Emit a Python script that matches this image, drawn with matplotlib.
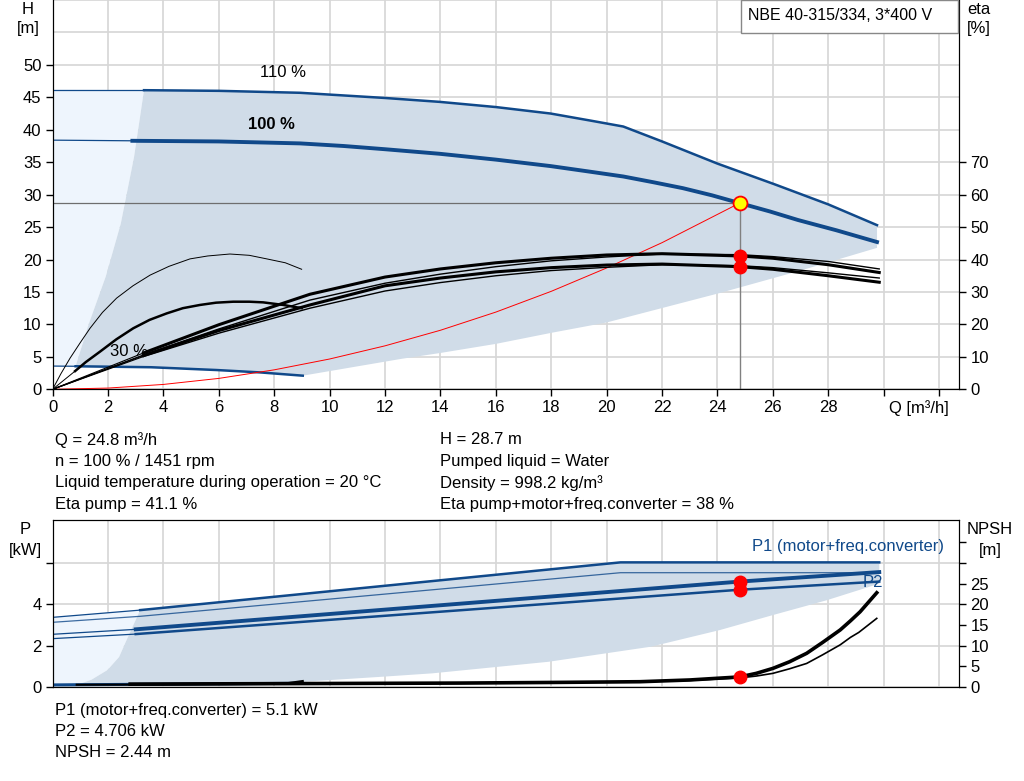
import matplotlib
matplotlib.use("Agg")
import matplotlib.pyplot as plt
from matplotlib.patches import Rectangle
import numpy as np

plt.rcParams['font.family'] = ['Liberation Sans', 'DejaVu Sans']
plt.rcParams['font.size'] = 12

BLUE = '#10498a'
SHADE = '#d0dce8'
LIGHT = '#eef5fd'
GRID = '#d6d6d6'

# ---- head curves H(Q) ----
q110_thin = [0, 3.3]
h110_thin = [46.2, 46.2]
q110 = [3.3, 6, 8.93, 12, 13.97, 16, 17.98, 19.5, 20.6, 22, 23.99, 26.06, 28.0, 29.76]
h110 = [46.1, 46.0, 45.7, 44.9, 44.3, 43.5, 42.5, 41.35, 40.5, 38.2, 34.8, 31.6, 28.5, 25.3]

q100_thin = [0, 2.88]
h100_thin = [38.4, 38.3]
q100 = [2.88, 6, 8.93, 10.5, 12, 13.97, 16, 17.98, 19.3, 20.6, 21.7, 22.75, 23.8, 24.8,
        25.9, 26.9, 28.3, 29.76]
h100 = [38.3, 38.2, 37.9, 37.5, 37.0, 36.3, 35.4, 34.4, 33.6, 32.8, 31.9, 31.0, 29.9, 28.7,
        27.4, 26.1, 24.5, 22.7]

q30_thin = [0, 0.83]
h30_thin = [3.58, 3.55]
q30 = [0.83, 3.55, 5.92, 7.5, 9.03]
h30 = [3.55, 3.4, 2.97, 2.6, 2.1]

# operating range shading (head)
shade_bot_q = [29.76, 27, 24.05, 20, 18, 16, 14, 12.6, 9.03]
shade_bot_h = [21.8, 18.3, 14.8, 10.3, 8.7, 7.0, 5.6, 4.7, 2.1]
edge_q = [0.83, 1.3, 1.92, 2.46, 2.94, 3.3]
edge_h = [3.55, 10, 17.4, 25.5, 35.8, 46.1]

# system curve
sys_q = [0, 2, 4, 6, 8, 10, 12, 14, 16, 18, 20, 22, 24.8]
sys_h = [0, 0.19, 0.75, 1.68, 3.0, 4.67, 6.7, 9.1, 11.9, 15.1, 18.7, 22.6, 28.7]

# ---- efficiency curves eta(Q) ----
eta_q = [0, 3.28, 6, 9.29, 12, 14, 16, 18, 20, 22, 24.8, 26, 28, 29.84]
eta_pump_100 = [0, 11.2, 19.9, 29.3, 34.6, 37.1, 39.0, 40.4, 41.4, 41.8, 41.1, 40.4, 38.4, 36.0]
eta_pump_110 = [0, 10.6, 18.6, 27.5, 32.7, 35.5, 37.8, 39.6, 40.8, 41.7, 41.5, 40.9, 39.4, 37.1]
eta_tot_100 = [0, 10.4, 18.1, 26.0, 31.9, 34.3, 36.2, 37.5, 38.3, 38.6, 37.8, 37.0, 35.0, 33.0]
eta_tot_110 = [0, 10.1, 17.3, 25.0, 30.3, 32.9, 35.0, 36.6, 37.6, 38.4, 38.1, 37.5, 35.9, 34.3]
eta30a_q = [0, 0.3, 0.63, 1.0, 1.35, 1.8, 2.31, 2.9, 3.52, 4.2, 4.96, 5.6, 6.4, 7.1, 7.73,
            8.4, 8.99]
eta30a = [0, 4.8, 9.6, 14.4, 18.8, 23.7, 28.1, 31.9, 35.2, 37.9, 40.2, 41.1, 41.7, 41.3,
          40.2, 39.0, 37.0]
eta30b_q = [0, 0.81, 1.2, 1.71, 2.3, 2.91, 3.5, 4.12, 4.7, 5.32, 5.9, 6.52, 7.1, 7.6, 8.33,
            8.99]
eta30b = [0, 5.6, 8.4, 11.6, 15.4, 18.8, 21.4, 23.4, 25.0, 26.0, 26.7, 27.0, 27.0, 26.8,
          26.0, 25.0]

# duty point
duty_q = 24.8
duty_h = 28.7
duty_eta = [41.1, 37.8]

# ---- power curves P(Q) ----
p1_110_q = [0, 3.16, 20.5, 29.84]
p1_110 = [3.37, 3.72, 6.03, 6.03]
p2_110_q = [0, 3.16, 20.5, 29.84]
p2_110 = [3.13, 3.42, 5.53, 5.53]
p1_100_q = [0, 3.0, 24.8, 29.84]
p1_100 = [2.55, 2.79, 5.1, 5.56]
p2_100_q = [0, 3.0, 24.8, 29.84]
p2_100 = [2.34, 2.56, 4.706, 5.1]
p30_q = [0, 0.87, 9.03]
p1_30 = [0.12, 0.13, 0.2]
p2_30 = [0.06, 0.07, 0.14]

pshade_bot_q = [29.84, 27.95, 26.0, 24.1, 21.6, 17.9, 13.7, 11.94, 8.2, 5.0, 0.87]
pshade_bot = [5.0, 4.2, 3.48, 2.76, 1.95, 1.22, 0.66, 0.5, 0.18, 0.12, 0.1]
pedge_q = [0.87, 1.4, 1.98, 2.4, 2.67, 2.9, 3.16]
pedge = [0.1, 0.35, 0.82, 1.45, 2.27, 2.95, 3.72]

# ---- NPSH curves ----
npsh_q = [2.8, 10, 14.7, 18, 21.2, 23, 24.8, 25.4, 26.0, 26.6, 27.22, 27.8, 28.43, 28.8,
          29.15, 29.75]
npsh_100 = [0.7, 0.85, 0.95, 1.1, 1.28, 1.7, 2.44, 3.3, 4.5, 6.1, 8.15, 10.8, 13.8, 16.0,
            18.2, 22.8]
npsh110_q = [21.2, 23, 24.8, 25.4, 26.0, 26.6, 27.22, 27.8, 28.43, 28.8, 29.1, 29.75]
npsh_110 = [1.25, 1.6, 2.2, 2.65, 3.3, 4.4, 5.7, 7.8, 10.2, 12.0, 13.2, 16.6]
npsh30_q = [0.87, 4, 7.5, 8.5, 9.03]
npsh_30 = [0.55, 0.6, 0.75, 0.95, 1.45]
duty_p1 = 5.1
duty_p2 = 4.706
duty_npsh = 2.44

W, H = 1024, 781
fig = plt.figure(figsize=(W / 100, H / 100), dpi=100)


def fx(px):
    return px / W


def fy(py):
    return 1 - py / H


# ================= top panel =================
ax = fig.add_axes([fx(52.6), fy(389.3), fx(959.3 - 52.6), 389.3 / H])
ax.set_xlim(0, 32.73)
ax.set_ylim(0, 60)
ax.set_xticks(np.arange(0, 33, 2))
ax.set_xticklabels([str(v) if v <= 28 else '' for v in range(0, 33, 2)])
ax.set_yticks(np.arange(0, 51, 5))
ax.set_yticks([55, 60], minor=True)
ax.tick_params(which='minor', length=0)
ax.grid(True, which='both', color=GRID, lw=1.2)
ax.set_axisbelow(True)
ax.spines['top'].set_visible(False)
ax.tick_params(direction='out', length=5, width=1, pad=3)

# light region left of minimum-flow edge
lq = [0] + edge_q + [0]
lh = [h30_thin[0]] + edge_h + [h110_thin[0]]
ax.fill(lq, lh, color=LIGHT, lw=0, zorder=1)
# dark operating region
sq = q110 + shade_bot_q + q30[::-1] + edge_q
sh = h110 + shade_bot_h + h30[::-1] + edge_h
ax.fill(sq, sh, color=SHADE, lw=0, zorder=1)

ax.plot(q110_thin, h110_thin, color=BLUE, lw=0.9, zorder=3)
ax.plot(q110, h110, color=BLUE, lw=1.8, zorder=3)
ax.plot(q100_thin, h100_thin, color=BLUE, lw=0.9, zorder=3)
ax.plot(q100, h100, color=BLUE, lw=2.8, zorder=3)
ax.plot(q30_thin, h30_thin, color=BLUE, lw=0.9, zorder=3)
ax.plot(q30, h30, color=BLUE, lw=1.8, zorder=3)
ax.plot(sys_q, sys_h, color='red', lw=0.7, zorder=3)
ax.plot([0, duty_q], [duty_h, duty_h], color='#6e6e6e', lw=0.9, zorder=2)
ax.plot([duty_q, duty_q], [0, duty_h], color='#808080', lw=1.0, zorder=2)

ax.text(8.3, 48.8, '110 %', ha='center', va='center')
ax.text(7.9, 40.8, '100 %', ha='center', va='center', fontweight='bold')
ax.text(2.76, 5.9, '30 %', ha='center', va='center')

ax2 = ax.twinx()
ax2.set_ylim(0, 120)
ax2.set_yticks(np.arange(0, 71, 10))
ax2.spines['top'].set_visible(False)
ax2.tick_params(direction='out', length=5, width=1, pad=3)
for ys, lw in [(eta_pump_110, 1.0), (eta_pump_100, 2.2),
               (eta_tot_110, 1.0), (eta_tot_100, 2.2)]:
    ax2.plot(eta_q[:2], ys[:2], color='black', lw=0.8)
    ax2.plot(eta_q[1:], ys[1:], color='black', lw=lw)
ax2.plot(eta30a_q, eta30a, color='black', lw=0.7)
ax2.plot(eta30b_q[:2], eta30b[:2], color='black', lw=0.7)
ax2.plot(eta30b_q[1:], eta30b[1:], color='black', lw=1.8)
ax2.plot([duty_q] * 2, duty_eta, 'o', color='red', ms=9, zorder=5)
ax2.plot([duty_q], [duty_h], 'o', mfc='yellow', mec='red', mew=1.3, ms=10,
         transform=ax.transData, zorder=6)

fig.text(fx(28), fy(9), 'H', ha='center', va='center')
fig.text(fx(28), fy(28), '[m]', ha='center', va='center')
fig.text(fx(979), fy(10), 'eta', ha='center', va='center')
fig.text(fx(979), fy(28), '[%]', ha='center', va='center')
fig.text(fx(919), fy(408), 'Q [m\u00b3/h]', ha='center', va='center')

fig.add_artist(Rectangle((fx(741), fy(33)), fx(958 - 741), 33 / H,
                         transform=fig.transFigure, fc='white', ec='#888888',
                         lw=1, zorder=5))
fig.text(fx(748), fy(15), 'NBE 40-315/334, 3*400 V', ha='left', va='center',
         fontsize=11.5, zorder=6)

# info text
left_lines = ['Q = 24.8 m\u00b3/h', 'n = 100 % / 1451 rpm',
              'Liquid temperature during operation = 20 \u00b0C', 'Eta pump = 41.1 %']
right_lines = ['H = 28.7 m', 'Pumped liquid = Water', 'Density = 998.2 kg/m\u00b3',
               'Eta pump+motor+freq.converter = 38 %']
for i, (a, b) in enumerate(zip(left_lines, right_lines)):
    y = 440 + i * 21.4
    fig.text(fx(55), fy(y), a, ha='left', va='center')
    fig.text(fx(440), fy(y), b, ha='left', va='center')

# ================= bottom panel =================
bx = fig.add_axes([fx(52.6), fy(687), fx(959.3 - 52.6), (687 - 520) / H])
bx.set_xlim(0, 32.73)
bx.set_ylim(0, 8.08)
bx.set_xticks(np.arange(0, 33, 2))
bx.tick_params(axis='x', length=0, labelbottom=False)
bx.set_yticks([0, 2, 4, 6])
bx.set_yticklabels(['0', '2', '4', ''])
bx.tick_params(axis='y', direction='out', length=5, width=1, pad=3)
bx.grid(True, color=GRID, lw=1.2)
bx.set_axisbelow(True)

lq = [0] + pedge_q + [0]
lp = [0] + pedge + [p1_110[0]]
bx.fill(lq, lp, color=LIGHT, lw=0, zorder=1)
sq = p1_110_q[1:] + pshade_bot_q + pedge_q
sp = p1_110[1:] + pshade_bot + pedge
bx.fill(sq, sp, color=SHADE, lw=0, zorder=1)

bx.plot(p1_110_q[:2], p1_110[:2], color=BLUE, lw=0.9, zorder=3)
bx.plot(p1_110_q[1:], p1_110[1:], color=BLUE, lw=1.8, zorder=3)
bx.plot(p2_110_q, p2_110, color=BLUE, lw=0.9, zorder=3, alpha=0.8)
bx.plot(p1_100_q[:2], p1_100[:2], color=BLUE, lw=0.9, zorder=3)
bx.plot(p1_100_q[1:], p1_100[1:], color=BLUE, lw=2.8, zorder=3)
bx.plot(p2_100_q[:2], p2_100[:2], color=BLUE, lw=0.9, zorder=3)
bx.plot(p2_100_q[1:], p2_100[1:], color=BLUE, lw=1.8, zorder=3)
bx.plot(p30_q, p1_30, color=BLUE, lw=1.6, zorder=3)
bx.plot(p30_q, p2_30, color=BLUE, lw=1.0, zorder=3)
bx.plot([duty_q, duty_q], [duty_p1, duty_p2], 'o', color='red', ms=9, zorder=5)

bx.text(29.6, 5.08, 'P2', color=BLUE, ha='center', va='center')
fig.text(fx(752), fy(547), 'P1 (motor+freq.converter)', color=BLUE, ha='left', va='center')

bx2 = bx.twinx()
bx2.set_ylim(0, 40.4)
bx2.set_yticks(np.arange(0, 36, 5))
bx2.set_yticklabels([str(v) if v <= 25 else '' for v in range(0, 36, 5)])
bx2.tick_params(direction='out', length=5, width=1, pad=3)
bx2.plot(npsh30_q, npsh_30, color='black', lw=1.5)
bx2.plot(npsh110_q, npsh_110, color='black', lw=1.2)
bx2.plot(npsh_q, npsh_100, color='black', lw=2.6)
bx2.plot([duty_q], [duty_npsh], 'o', color='red', ms=9, zorder=5)

fig.text(fx(25), fy(530), 'P', ha='center', va='center')
fig.text(fx(25), fy(550), '[kW]', ha='center', va='center')
fig.text(fx(990), fy(530), 'NPSH', ha='center', va='center')
fig.text(fx(990), fy(550), '[m]', ha='center', va='center')

bottom_lines = ['P1 (motor+freq.converter) = 5.1 kW', 'P2 = 4.706 kW', 'NPSH = 2.44 m']
for i, s in enumerate(bottom_lines):
    fig.text(fx(55), fy(710 + i * 21.4), s, ha='left', va='center')

fig.savefig('out.png', dpi=100, facecolor='white')
